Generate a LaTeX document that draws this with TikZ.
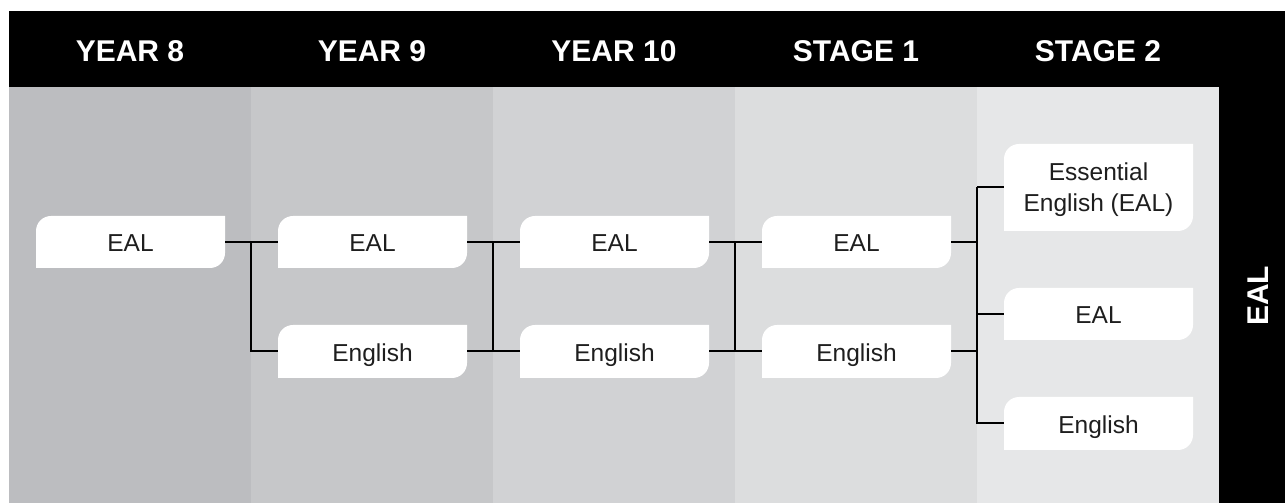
\documentclass[tikz,border=0pt]{standalone}
\usepackage{fontspec}
\setmainfont{Liberation Sans}
\definecolor{colA}{HTML}{BCBDC0}
\definecolor{colB}{HTML}{C6C7C9}
\definecolor{colC}{HTML}{D1D2D4}
\definecolor{colD}{HTML}{DCDDDE}
\definecolor{colE}{HTML}{E6E7E8}
\definecolor{ink}{HTML}{1E1E1E}
\tikzset{
  boxfill/.style={fill=white},
  boxnode/.style={inner sep=0pt, minimum width=189, text=ink, font=\fontsize{24.5}{31}\selectfont, align=center},
  oneline/.style={text height=19.6pt, text depth=0pt},
  headtext/.style={anchor=base, text=white, font=\fontsize{30}{32}\selectfont\bfseries},
  conn/.style={draw=black, line width=2pt},
}
\newcommand\ebox[6]{%
  \fill[boxfill] (#2-94.5,#3-#4/2) -- (#2-94.5,#3+#4/2-15) arc[start angle=180,end angle=90,radius=15] -- (#2+94.5,#3+#4/2) -- (#2+94.5,#3-#4/2+15) arc[start angle=0,end angle=-90,radius=15] -- cycle;
  \node[boxnode, minimum height=#4, #6] (#1) at (#2,#3) {#5};
}
\begin{document}
\begin{tikzpicture}[x=1pt,y=1pt]
\useasboundingbox (0,0) rectangle (1285,503);
\fill[white] (0,0) rectangle (1285,503);
% columns
\fill[colA] (9,0) rectangle (251,416);
\fill[colB] (251,0) rectangle (493,416);
\fill[colC] (493,0) rectangle (735,416);
\fill[colD] (735,0) rectangle (977,416);
\fill[colE] (977,0) rectangle (1219,416);
% header and side bar
\fill[black] (9,416) rectangle (1285,492);
\fill[black] (1219,0) rectangle (1285,416);
\node[headtext] (h1) at (130,441) {YEAR 8};
\node[headtext] (h2) at (372,441) {YEAR 9};
\node[headtext] (h3) at (614,441) {YEAR 10};
\node[headtext] (h4) at (856,441) {STAGE 1};
\node[headtext] (h5) at (1098,441) {STAGE 2};
\node[text=white, font=\fontsize{30}{32}\selectfont\bfseries, rotate=90, text height=21.5pt, text depth=0pt, inner sep=0pt] (side) at (1258,207) {EAL};
% boxes
\ebox{e1}{130.5}{261}{52}{EAL}{oneline}
\ebox{e2}{372.5}{261}{52}{EAL}{oneline}
\ebox{g2}{372.5}{151.5}{53}{English}{oneline}
\ebox{e3}{614.5}{261}{52}{EAL}{oneline}
\ebox{g3}{614.5}{151.5}{53}{English}{oneline}
\ebox{e4}{856.5}{261}{52}{EAL}{oneline}
\ebox{g4}{856.5}{151.5}{53}{English}{oneline}
\ebox{s5}{1098.5}{315.5}{87}{Essential\\English (EAL)}{yshift=-2.5pt}
\ebox{e5}{1098.5}{189}{52}{EAL}{oneline}
\ebox{g5}{1098.5}{79.5}{53}{English}{oneline}
% junctions
\coordinate (j1) at (251,261);
\coordinate (j2t) at (493,261);
\coordinate (j2b) at (493,151.5);
\coordinate (j3t) at (735,261);
\coordinate (j3b) at (735,151.5);
\coordinate (j4t) at (977,315.5);
\coordinate (j4b) at (977,79.5);
% connectors
\draw[conn] (e1.east) -- (j1) -- (e2.west);
\draw[conn] (j1) |- (g2.west);
\draw[conn] (e2.east) -- (e3.west);
\draw[conn] (g2.east) -- (g3.west);
\draw[conn] (j2t) -- (j2b);
\draw[conn] (e3.east) -- (e4.west);
\draw[conn] (g3.east) -- (g4.west);
\draw[conn] (j3t) -- (j3b);
\draw[conn] (e4.east) -- (e4.east -| j4t);
\draw[conn] (g4.east) -- (g4.east -| j4t);
\draw[conn] (j4t) -- (j4t -| s5.west);
\draw[conn] (e5.west -| j4t) -- (e5.west);
\draw[conn] (j4t) |- (g5.west);
\end{tikzpicture}
\end{document}
